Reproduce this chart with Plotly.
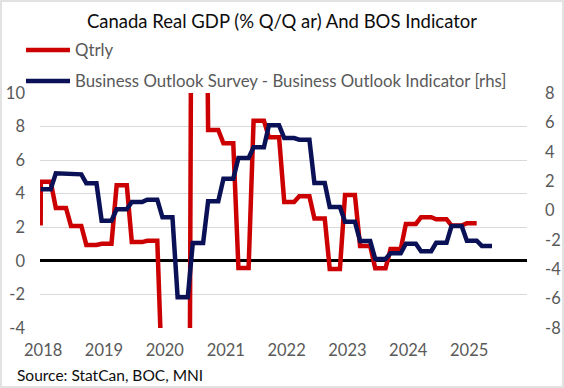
import pandas as pd
import plotly.graph_objects as go

# ---------------- data ----------------
title_text = "Canada Real GDP (% Q/Q ar) And BOS Indicator"
source_text = "Source: StatCan, BOC, MNI"
gdp_name = "Qtrly"
bos_name = "Business Outlook Survey - Business Outlook Indicator [rhs]"

# last value of 2017Q4 (first point of the chart)
start_date = "2017-12-31"
gdp_2017q4 = 2.1
bos_2017q4 = 1.44

# quarterly values, 2018Q1 onwards
gdp_qtrly = [4.72, 3.15, 2.08, 0.95,        # 2018
             1.02, 4.5, 1.12, 1.2,          # 2019
             -7.6, -38.0, 40.0, 7.8,        # 2020
             7.0, -0.42, 8.35, 7.36,        # 2021
             3.51, 3.85, 2.52, -0.48,       # 2022
             3.93, 0.89, -0.44, 0.7,        # 2023
             2.2, 2.6, 2.48, 2.1,           # 2024
             2.24]                          # 2025
bos_indicator = [1.44, 2.53, 2.46, 1.85,    # 2018
                 -0.69, 0.08, 0.58, 0.74,   # 2019
                 -0.46, -5.9, -2.21, 0.63,  # 2020
                 2.17, 3.57, 4.3, 5.8,      # 2021
                 4.93, 4.82, 1.87, 0.24,    # 2022
                 -0.76, -2.08, -3.3, -2.91, # 2023
                 -2.26, -2.77, -2.2, -1.06, # 2024
                 -2.06, -2.41]              # 2025

year_labels = ["2018", "2019", "2020", "2021", "2022", "2023", "2024", "2025"]
left_ticks = [10, 8, 6, 4, 2, 0, -2, -4]
right_ticks = [8, 6, 4, 2, 0, -2, -4, -6, -8]


def monthly(values, first_value):
    """Quarterly values held flat over each month of the quarter."""
    dates = [pd.Timestamp(start_date)]
    vals = [first_value]
    q = pd.Period("2018Q1", freq="Q")
    for v in values:
        for k in range(3):
            dates.append(q.start_time + pd.DateOffset(months=k))
            vals.append(v)
        q += 1
    return dates, vals


gdp_x, gdp_y = monthly(gdp_qtrly, gdp_2017q4)
bos_x, bos_y = monthly(bos_indicator, bos_2017q4)

# ---------------- figure ----------------
FONT = "Lato"
GRAY = "#595959"
W, H = 564, 388
L, R, T, B = 40, 37, 93, 60
pw, ph = W - L - R, H - T - B


def px_x(px):
    return (px - L) / pw


def px_y(py):
    return (H - B - py) / ph


fig = go.Figure()
fig.add_trace(go.Scatter(x=gdp_x, y=gdp_y, mode="lines", name=gdp_name,
                         line=dict(color="#CC0000", width=4.5),
                         yaxis="y", legend="legend"))
fig.add_trace(go.Scatter(x=bos_x, y=bos_y, mode="lines", name=bos_name,
                         line=dict(color="#0B1157", width=4.5),
                         yaxis="y2", legend="legend2"))

fig.update_layout(
    width=W, height=H,
    margin=dict(l=L, r=R, t=T, b=B, autoexpand=False),
    paper_bgcolor="white", plot_bgcolor="white",
    font=dict(family=FONT, color=GRAY, size=16),
    title=dict(text=title_text, x=0.5, xanchor="center", y=1 - 22 / H,
               yanchor="middle", font=dict(family=FONT, size=18.5, color="#0D0D0D")),
    xaxis=dict(type="date", range=["2017-12-27", "2025-12-28"],
               tickvals=[f"{y}-01-15" for y in year_labels], ticktext=year_labels,
               showgrid=False, zeroline=False, showline=False,
               ticks="", ticklabelstandoff=10, automargin=False,
               tickfont=dict(size=16.5, color=GRAY)),
    yaxis=dict(range=[-4, 10], tickvals=left_ticks,
               ticktext=[str(v) for v in left_ticks],
               showgrid=True, gridcolor="#D9D9D9", gridwidth=1.3,
               zeroline=True, zerolinecolor="black", zerolinewidth=3,
               showline=False, ticks="", ticklabelstandoff=14, automargin=False,
               tickfont=dict(size=16.5, color=GRAY)),
    yaxis2=dict(range=[-8, 8], overlaying="y", side="right",
                tickvals=right_ticks, ticktext=[str(v) for v in right_ticks],
                showgrid=False, zeroline=False, showline=False,
                ticks="", ticklabelstandoff=17, automargin=False,
                tickfont=dict(size=16.5, color=GRAY)),
    legend=dict(x=px_x(21), y=px_y(50), xanchor="left", yanchor="middle",
                bgcolor="rgba(0,0,0,0)", font=dict(size=16.8, color=GRAY),
                itemwidth=44),
    legend2=dict(x=px_x(21), y=px_y(81), xanchor="left", yanchor="middle",
                 bgcolor="rgba(0,0,0,0)", font=dict(size=16.8, color=GRAY),
                 itemwidth=44),
    showlegend=True,
)

fig.add_annotation(text=source_text, xref="paper", yref="paper",
                   x=px_x(15), y=px_y(375), xanchor="left", yanchor="middle",
                   showarrow=False, font=dict(family=FONT, size=15.5, color="#0D0D0D"))

# chart border
fig.add_shape(type="rect", xref="paper", yref="paper",
              x0=px_x(1), x1=px_x(W - 1), y0=px_y(H - 1), y1=px_y(1),
              line=dict(color="#D9D9D9", width=1.5), layer="below")

fig.write_html("out.html",
               config={"displayModeBar": False},
               post_script="document.body.style.margin='0';document.body.style.padding='0';")
